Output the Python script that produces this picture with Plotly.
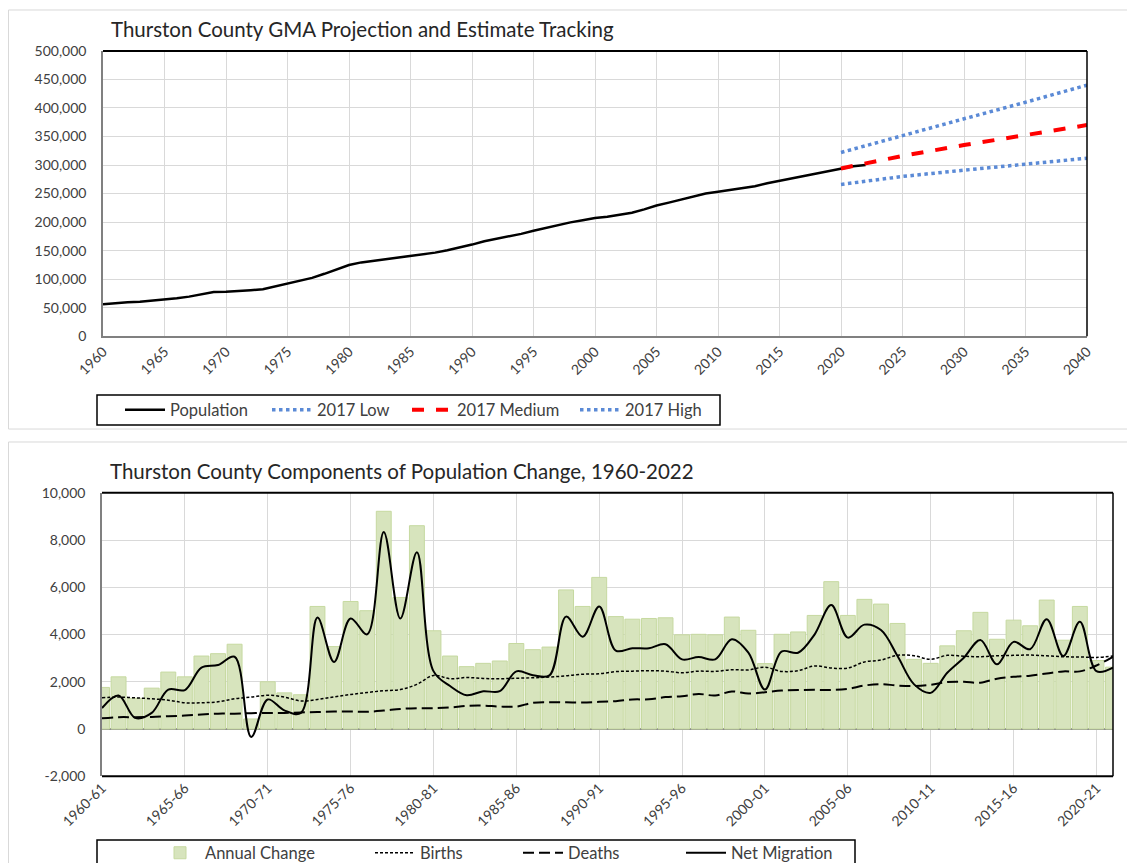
import plotly.graph_objects as go

W, H = 1135, 863

# ---------------- Top chart data ----------------
years = list(range(1960, 2023))
population = [
    55900, 57000, 59400, 60600, 62300, 64700, 66500, 69400, 73500, 77600,
    77900, 78800, 80600, 82300, 87600, 91800, 97000, 102300, 109400, 116500,
    124700, 129400, 132300, 135300, 137600, 140000, 143500, 146500, 150600, 155300,
    160600, 166500, 170600, 175300, 179400, 184700, 190000, 195500, 199500, 203200,
    207000, 209400, 212400, 216500, 222300, 229000, 234100, 239400, 245300, 250000,
    253000, 255900, 258800, 262900, 268200, 272300, 276500, 280600, 285300, 289400,
    294100, 297700, 300000,
]
proj_years = [2020, 2025, 2030, 2035, 2040]
low_2017 = [266000, 280000, 291000, 302000, 312000]
medium_2017 = [294000, 316000, 335000, 353000, 370000]
high_2017 = [322000, 352000, 381000, 410000, 440000]
top_title = "Thurston County GMA Projection and Estimate Tracking"

# ---------------- Bottom chart data ----------------
periods = [
    "1960-61", "1961-62", "1962-63", "1963-64", "1964-65", "1965-66", "1966-67", "1967-68",
    "1968-69", "1969-70", "1970-71", "1971-72", "1972-73", "1973-74", "1974-75", "1975-76",
    "1976-77", "1977-78", "1978-79", "1979-80", "1980-81", "1981-82", "1982-83", "1983-84",
    "1984-85", "1985-86", "1986-87", "1987-88", "1988-89", "1989-90", "1990-91", "1991-92",
    "1992-93", "1993-94", "1994-95", "1995-96", "1996-97", "1997-98", "1998-99", "1999-00",
    "2000-01", "2001-02", "2002-03", "2003-04", "2004-05", "2005-06", "2006-07", "2007-08",
    "2008-09", "2009-10", "2010-11", "2011-12", "2012-13", "2013-14", "2014-15", "2015-16",
    "2016-17", "2017-18", "2018-19", "2019-20", "2020-21", "2021-22",
]
annual_change = [
    1760, 2210, 1300, 1730, 2410, 2210, 3090, 3190, 3590, 425,
    2000, 1530, 1450, 5190, 3490, 5400, 5010, 9220, 5570, 8610,
    4160, 3090, 2640, 2780, 2880, 3620, 3360, 3470, 5890, 5190,
    6420, 4760, 4650, 4680, 4710, 3990, 4010, 3990, 4740, 4180,
    2770, 4010, 4110, 4810, 6240, 4810, 5490, 5290, 4470, 2950,
    2780, 3520, 4160, 4940, 3800, 4610, 4370, 5460, 3760, 5190,
    2900, 2620,
]
births = [
    1320, 1350, 1320, 1280, 1220, 1110, 1110, 1150, 1280, 1350,
    1430, 1350, 1190, 1250, 1360, 1460, 1545, 1620, 1670, 1890,
    2270, 2130, 2180, 2140, 2130, 2150, 2170, 2200, 2250, 2320,
    2340, 2430, 2450, 2470, 2450, 2380, 2450, 2440, 2510, 2500,
    2620, 2440, 2470, 2670, 2580, 2580, 2840, 2920, 3120, 3100,
    2950, 3120, 3080, 3060, 3100, 3120, 3130, 3100, 3060, 3050,
    3030, 3090,
]
deaths = [
    450, 500, 500, 510, 540, 570, 610, 650, 650, 670,
    680, 680, 700, 720, 740, 740, 730, 780, 850, 880,
    880, 910, 980, 990, 950, 950, 1110, 1130, 1130, 1120,
    1150, 1180, 1250, 1260, 1350, 1390, 1480, 1420, 1590, 1500,
    1560, 1630, 1650, 1660, 1650, 1700, 1840, 1900, 1840, 1820,
    1870, 1990, 2000, 1960, 2130, 2210, 2260, 2350, 2440, 2440,
    2690, 3060,
]
net_migration = [
    890, 1420, 470, 680, 1670, 1650, 2600, 2710, 3060, -340,
    1250, 790, 680, 4720, 2840, 4680, 4010, 8340, 4680, 7490,
    2450, 1820, 1430, 1600, 1600, 2440, 2280, 2270, 4760, 3910,
    5190, 3320, 3420, 3420, 3590, 2950, 3050, 2950, 3800, 3230,
    1670, 3280, 3230, 4010, 5250, 3870, 4420, 4190, 3090, 1890,
    1530, 2380, 3020, 3770, 2740, 3690, 3380, 4650, 3090, 4540,
    2450, 2600,
]
bottom_title = "Thurston County Components of Population Change, 1960-2022"
bottom_ytick_vals = [-2000, 0, 2000, 4000, 6000, 8000, 10000]
bottom_ytick_text = ["-2,000", "0", "2,000", "4,000", "6,000", "8,000", "10,000"]

FONT = "Lato"
TXT = "#404040"
GRID = "#d9d9d9"

# layout anchors (page pixels)
T_L, T_R, T_T, T_B = 95, 1079, 43, 329
B_L, B_R, B_T, B_B = 94, 1105, 486, 770


def px(x):
    return x / W


def py(y):
    return 1 - y / H


fig = go.Figure()

# ---- top traces ----
fig.add_trace(go.Scatter(x=years, y=population, name="Population", mode="lines",
                         line=dict(color="black", width=2.5), xaxis="x", yaxis="y",
                         legend="legend"))
fig.add_trace(go.Scatter(x=proj_years, y=low_2017, name="2017 Low", mode="lines",
                         line=dict(color="#5b8ad6", width=3.5, dash="dot"), xaxis="x", yaxis="y",
                         legend="legend2"))
fig.add_trace(go.Scatter(x=proj_years, y=medium_2017, name="2017 Medium", mode="lines",
                         line=dict(color="#ff0000", width=4, dash="dash"), xaxis="x", yaxis="y",
                         legend="legend3"))
fig.add_trace(go.Scatter(x=proj_years, y=high_2017, name="2017 High", mode="lines",
                         line=dict(color="#5b8ad6", width=3.5, dash="dot"), xaxis="x", yaxis="y",
                         legend="legend4"))

# ---- bottom traces ----
fig.add_trace(go.Bar(x=periods, y=annual_change, name="Annual Change",
                     marker=dict(color="#d7e4bd", line=dict(color="#c6d9a0", width=1)),
                     xaxis="x2", yaxis="y2", legend="legend5"))
fig.add_trace(go.Scatter(x=periods, y=births, name="Births", mode="lines",
                         line=dict(color="black", width=1.5, dash="3px,2px", shape="spline"),
                         xaxis="x2", yaxis="y2", legend="legend6"))
fig.add_trace(go.Scatter(x=periods, y=deaths, name="Deaths", mode="lines",
                         line=dict(color="black", width=2, dash="11px,5px", shape="spline"),
                         xaxis="x2", yaxis="y2", legend="legend7"))
fig.add_trace(go.Scatter(x=periods, y=net_migration, name="Net Migration", mode="lines",
                         line=dict(color="black", width=2, shape="spline"),
                         xaxis="x2", yaxis="y2", legend="legend8"))

tickfont = dict(family=FONT, size=14, color=TXT)

shapes = [
    # outer chart frames
    dict(type="rect", xref="paper", yref="paper", x0=px(0.5), x1=px(1134), y0=py(422), y1=py(2),
         line=dict(color="#d9d9d9", width=1), layer="below"),
    dict(type="rect", xref="paper", yref="paper", x0=px(0.5), x1=px(1140), y0=py(900), y1=py(435),
         line=dict(color="#d9d9d9", width=1), layer="below"),
    # legend boxes
    dict(type="rect", xref="paper", yref="paper", x0=px(89), x1=px(712), y0=py(418), y1=py(388),
         line=dict(color="black", width=1.5)),
    dict(type="rect", xref="paper", yref="paper", x0=px(89), x1=px(847), y0=py(900), y1=py(834),
         line=dict(color="black", width=1.5)),
    # top plot borders (top & right black)
    dict(type="line", xref="paper", yref="paper", x0=px(T_L), x1=px(T_R), y0=py(T_T), y1=py(T_T),
         line=dict(color="black", width=2)),
    dict(type="line", xref="paper", yref="paper", x0=px(T_R), x1=px(T_R), y0=py(T_T), y1=py(T_B),
         line=dict(color="black", width=1.5)),
    # bottom plot borders
    dict(type="line", xref="paper", yref="paper", x0=px(B_L), x1=px(B_R), y0=py(B_T), y1=py(B_T),
         line=dict(color="black", width=2)),
    dict(type="line", xref="paper", yref="paper", x0=px(B_R), x1=px(B_R), y0=py(B_T), y1=py(B_B),
         line=dict(color="black", width=1.5)),
    dict(type="line", xref="paper", yref="paper", x0=px(B_L), x1=px(B_R), y0=py(B_B), y1=py(B_B),
         line=dict(color="black", width=2)),
]


def leg(x_sym, y_mid):
    return dict(orientation="v", x=px(x_sym - 5), y=py(y_mid), xanchor="left", yanchor="middle",
                bgcolor="rgba(0,0,0,0)", borderwidth=0, itemwidth=40,
                font=dict(family=FONT, size=16.5, color=TXT),
                itemclick=False, itemdoubleclick=False)


fig.update_layout(
    template="none",
    width=W, height=H,
    margin=dict(l=0, r=0, t=0, b=0, pad=0),
    paper_bgcolor="white", plot_bgcolor="white",
    font=dict(family=FONT, color=TXT),
    showlegend=True,
    bargap=0.1,
    xaxis=dict(domain=[px(T_L), px(T_R)], range=[1960, 2040], tick0=1960, dtick=5,
               tickangle=-45, tickfont=tickfont, showgrid=True, gridcolor=GRID, gridwidth=1,
               showline=True, linecolor="#808080", linewidth=1.5, zeroline=False,
               ticks="", anchor="y", automargin=False),
    yaxis=dict(domain=[py(T_B), py(T_T)], range=[0, 500000], dtick=50000, tickformat=",",
               tickfont=tickfont, showgrid=True, gridcolor=GRID, gridwidth=1,
               showline=True, linecolor="#808080", linewidth=1.5, zeroline=False,
               ticks="", ticklabelstandoff=12, anchor="x", automargin=False),
    xaxis2=dict(domain=[px(B_L), px(B_R)], type="category", range=[0, 61], tick0=0, dtick=5,
                tickangle=-45, tickfont=tickfont, showgrid=True, gridcolor=GRID, gridwidth=1,
                showline=False, zeroline=False, ticks="", anchor="y2", automargin=False),
    yaxis2=dict(domain=[py(B_B), py(B_T)], range=[-2000, 10000], tickvals=bottom_ytick_vals,
                ticktext=bottom_ytick_text, tickfont=tickfont, showgrid=True, gridcolor=GRID,
                gridwidth=1, showline=True, linecolor="#808080", linewidth=1.5,
                zeroline=True, zerolinecolor="#8c8c8c", zerolinewidth=2,
                ticks="", ticklabelstandoff=12, anchor="x2", automargin=False),
    legend=leg(117, 403),
    legend2=leg(264, 403),
    legend3=leg(404, 403),
    legend4=leg(572, 403),
    legend5=leg(152, 847),
    legend6=leg(367, 847),
    legend7=leg(515, 847),
    legend8=leg(678, 847),
    annotations=[
        dict(text=top_title, xref="paper", yref="paper", x=px(101), y=py(21),
             xanchor="left", yanchor="middle", showarrow=False,
             font=dict(family=FONT, size=20.5, color="#262626")),
        dict(text=bottom_title, xref="paper", yref="paper", x=px(100), y=py(464),
             xanchor="left", yanchor="middle", showarrow=False,
             font=dict(family=FONT, size=20.5, color="#262626")),
    ],
    shapes=shapes,
)

fig.write_html("out.html")
